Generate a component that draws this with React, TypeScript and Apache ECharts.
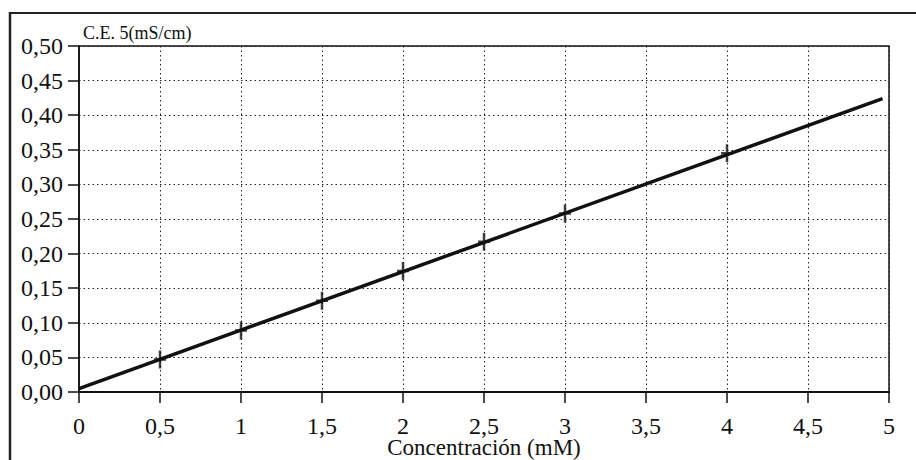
import React, { useEffect, useRef } from "react";
import * as echarts from "echarts";

const concentrations = [0.5, 1, 1.5, 2, 2.5, 3, 4];
const conductivity = [0.047, 0.089, 0.132, 0.175, 0.217, 0.258, 0.345];
const fitLine = [
  [0, 0.005],
  [4.96, 0.424],
];
const yTitle = "C.E. 5(mS/cm)";
const xTitle = "Concentración (mM)";

const FONT = "'Liberation Serif', 'Times New Roman', serif";

export default function App() {
  const ref = useRef<HTMLDivElement>(null);
  useEffect(() => {
    if (!ref.current) return;
    const chart = echarts.init(ref.current, undefined, { renderer: "svg" });
    chart.setOption({
      animation: false,
      backgroundColor: "#fff",
      title: {
        text: yTitle,
        left: 78,
        top: 19,
        textStyle: { fontFamily: FONT, fontSize: 18, fontWeight: "normal", color: "#111" },
      },
      grid: {
        left: 79,
        right: 27,
        top: 46,
        bottom: 68,
        containLabel: false,
        outerBoundsMode: "none",
        show: true,
        borderColor: "#111",
        borderWidth: 1.5,
        backgroundColor: "transparent",
      },
      xAxis: {
        type: "value",
        min: 0,
        max: 5,
        interval: 0.5,
        name: xTitle,
        nameLocation: "middle",
        nameGap: 46,
        nameMoveOverlap: false,
        nameTextStyle: { fontFamily: FONT, fontSize: 23, color: "#111", lineHeight: 18 },
        axisLine: { lineStyle: { color: "#111", width: 2 } },
        axisTick: { show: true, length: 11, lineStyle: { color: "#111", width: 1.5 } },
        axisLabel: {
          fontFamily: FONT,
          fontSize: 24,
          lineHeight: 18,
          color: "#111",
          margin: 25,
          formatter: (v: number) => String(v).replace(".", ","),
        },
        splitLine: { show: true, lineStyle: { color: "#222", type: [1.5, 3], width: 1 } },
      },
      yAxis: {
        type: "value",
        min: 0,
        max: 0.5,
        interval: 0.05,
        axisLine: { show: true, lineStyle: { color: "#111", width: 1.5 } },
        axisTick: { show: true, length: 11, lineStyle: { color: "#111", width: 1.5 } },
        axisLabel: {
          fontFamily: FONT,
          fontSize: 24,
          color: "#111",
          margin: 16,
          formatter: (v: number) => v.toFixed(2).replace(".", ","),
        },
        splitLine: { show: true, lineStyle: { color: "#222", type: [1.5, 3], width: 1 } },
      },
      series: [
        {
          type: "line",
          data: fitLine,
          showSymbol: false,
          lineStyle: { color: "#111", width: 3.5 },
          z: 3,
        },
        {
          type: "scatter",
          data: concentrations.map((c, i) => [c, conductivity[i]]),
          symbol: "path://M4.75,0H7.25V18H4.75Z M0,7.75H12V10.25H0Z",
          symbolSize: [12, 18],
          itemStyle: { color: "#111" },
          z: 4,
        },
      ],
      graphic: [
        { type: "line", shape: { x1: 10, y1: 13, x2: 916, y2: 13 }, style: { stroke: "#222", lineWidth: 2 } },
        { type: "line", shape: { x1: 10, y1: 12, x2: 10, y2: 460 }, style: { stroke: "#222", lineWidth: 2.5 } },
      ],
    });
    return () => chart.dispose();
  }, []);
  return <div ref={ref} style={{ width: 916, height: 460, position: "absolute", left: 0, top: 0 }} />;
}
